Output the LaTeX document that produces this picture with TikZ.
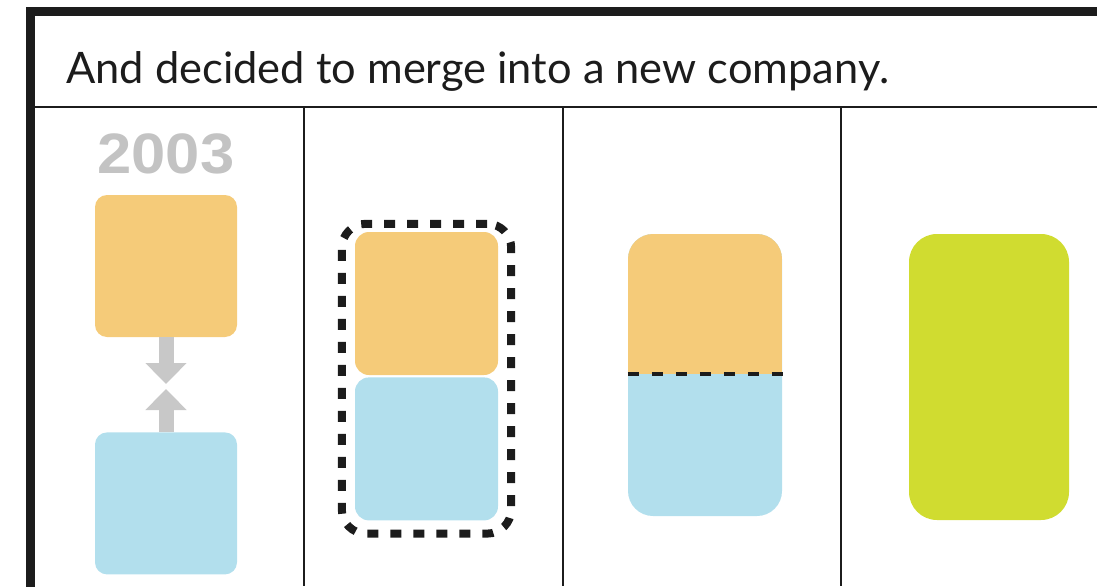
\documentclass[tikz,border=0pt]{standalone}
\usepackage{fontspec}
\setmainfont{Lato}
\newfontfamily\yearfont{Liberation Sans}
\usepackage{xcolor}
\usepackage{tikz}
\usetikzlibrary{arrows.meta, positioning, fit}
\definecolor{myorange}{RGB}{245,203,121}
\definecolor{myblue}{RGB}{178,223,237}
\definecolor{mygreen}{RGB}{208,220,48}
\definecolor{mygray}{RGB}{200,200,200}
\definecolor{myyear}{RGB}{195,195,195}
\definecolor{myink}{RGB}{28,28,28}
\tikzstyle{compbox} = [rectangle, rounded corners=12pt, minimum width=142pt, minimum height=142pt, inner sep=0pt]
\tikzstyle{groupbox} = [rectangle, rounded corners=24pt, draw=myink, line width=8pt, dash pattern=on 11pt off 12pt]
\tikzstyle{splitline} = [draw=myink, line width=4.5pt, dash pattern=on 11pt off 13pt]
\tikzstyle{merge} = [mygray, line width=15pt, -{Triangle[width=40pt, length=21pt]}]
\tikzstyle{rule} = [myink, line width=2.5pt]

\begin{document}
\begin{tikzpicture}[x=1pt, y=-1pt]
    \useasboundingbox (0,0) rectangle (1097,586);
    % frame and panels
    \draw [myink, line width=9pt] (30.5,600) -- (30.5,11.5) -- (1110,11.5);
    \draw [rule] (35,107) -- (1097,107);
    \foreach \x in {304,563,841}
        \draw [rule] (\x,107) -- (\x,586);
    \node (title) [anchor=base west, inner sep=0pt, text=myink, font=\fontsize{43.4pt}{43.4pt}\selectfont] at (66,84) {And decided to merge into a new company.};

    % panel 1
    \node (year) [anchor=base, inner sep=0pt, text=myyear, font=\yearfont\bfseries\fontsize{57pt}{57pt}\selectfont] at (166,173) {\scalebox{1.08}[1]{2003}};
    \node (o1) [compbox, fill=myorange] at (166,266) {};
    \node (b1) [compbox, fill=myblue, below=95pt of o1] {};
    \coordinate (d1) at (166,384);
    \coordinate (u1) at (166,389);
    \draw [merge] (o1.south) -- (d1);
    \draw [merge] (b1.north) -- (u1);

    % panel 2
    \node (o2) [compbox, fill=myorange, rounded corners=14pt, minimum width=143pt, minimum height=143pt] at (426.5,303.5) {};
    \node (b2) [compbox, fill=myblue, rounded corners=14pt, minimum width=143pt, minimum height=143pt, below=2pt of o2] {};
    \node (g2) [groupbox, fit=(o2)(b2), inner xsep=13pt, inner ysep=10.5pt, yshift=-2.5pt] {};

    % panel 3
    \node (c3) [rectangle, rounded corners=25pt, fill=myblue, minimum width=154pt, minimum height=282pt, inner sep=0pt,
        path picture={\fill [myorange, sharp corners] (path picture bounding box.north west) rectangle ([yshift=1pt]path picture bounding box.east);}] at (705,375) {};
    \coordinate (c3r) at ([xshift=3pt]c3.east);
    \draw [splitline] ([yshift=1pt]c3.west) -- ([yshift=1pt]c3r);

    % panel 4
    \node (n4) [rectangle, rounded corners=28pt, fill=mygreen, minimum width=160pt, minimum height=286pt, inner sep=0pt] at (989,377) {};
\end{tikzpicture}
\end{document}
